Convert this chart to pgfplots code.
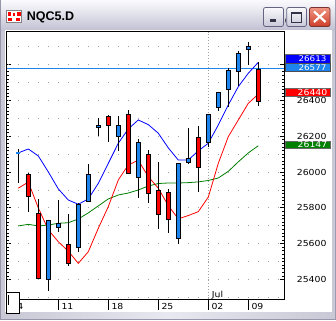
\documentclass[border=0pt]{standalone}
\usepackage{pgfplots}
\pgfplotsset{compat=1.18}
\usepackage{fontspec}
\setmainfont{DejaVu Sans}
\newfontfamily\lblfont[FakeStretch=1.12]{DejaVu Sans}
\newfontfamily\ttlfont{Liberation Sans}
\definecolor{cblue}{RGB}{28,132,236}
\definecolor{maBlue}{RGB}{0,0,255}
\definecolor{maRed}{RGB}{255,0,0}
\definecolor{maGreen}{RGB}{0,128,0}
\definecolor{gridc}{RGB}{160,160,160}
\definecolor{frOut}{RGB}{150,150,170}
\definecolor{frSide}{RGB}{200,200,214}
\definecolor{frMid}{RGB}{232,232,240}
\definecolor{tbTop}{RGB}{248,248,252}
\definecolor{tbBot}{RGB}{192,192,210}
\definecolor{tbMid}{RGB}{222,222,232}
\definecolor{btTop}{RGB}{250,250,252}
\definecolor{btBot}{RGB}{200,200,216}
\definecolor{btBrd}{RGB}{100,100,130}
\definecolor{btIcon}{RGB}{50,50,70}
\definecolor{clTop}{RGB}{240,150,130}
\definecolor{clBot}{RGB}{205,60,40}
\definecolor{clBrd}{RGB}{120,50,50}
\newcommand{\lf}{\lblfont\fontsize{8.3}{9}\selectfont}
% color, x, open, high, low, close
\newcommand{\cndl}[6]{%
 \addplot[black, line width=1pt] coordinates {(#2,#4) (#2,#5)};
 \pgfmathsetmacro\xl{#2-0.18}\pgfmathsetmacro\xr{#2+0.18}%
 \edef\tmp{\noexpand\addplot[fill=#1, draw=black, line width=0.9pt] coordinates {(\xl,#3) (\xr,#3) (\xr,#6) (\xl,#6)} -- cycle;}%
 \tmp}
\begin{document}
\begin{tikzpicture}
\useasboundingbox (0pt,0pt) rectangle (336pt,320pt);
\begin{scope}[x=1pt,y=1pt]
\fill[frOut] (0,0) rectangle (336,320);
\shade[left color=frSide, right color=frSide, middle color=frMid] (1,1) rectangle (335,290);
\shade[top color=tbTop, bottom color=tbBot, middle color=tbMid] (1,289.5) rectangle (335,319);
\fill[white] (4.5,7.5) rectangle (331.5,289.5);
\end{scope}
\begin{axis}[
  at={(6.7pt,21pt)}, anchor=south west,
  scale only axis, width=277.3pt, height=267.3pt,
  xmin=-0.16, xmax=27.57, ymin=25291, ymax=26784,
  axis background/.style={fill=white},
  axis line style={black, line width=1pt},
  every tick/.style={black, line width=0.8pt},
  xtick={0,5,10,15,20,24},
  xticklabels={04,11,18,25,02,09},
  xtick pos=bottom,
  xtick align=outside,
  xtick style={/pgfplots/major tick length=11pt},
  xticklabel style={anchor=north west, inner sep=0pt, xshift=3pt, font=\lf},
  ytick={25400,25600,25800,26000,26200,26400,26600},
  yticklabels={25400,25600,25800,26000,26200,26400,},
  yticklabel pos=right,
  ytick pos=both,
  ytick align=inside,
  major tick length=4pt, minor tick length=2pt,
  minor y tick num=9,
  yticklabel style={anchor=west, inner sep=0pt, xshift=12.7pt, font=\lf},
  extra y ticks={25300,25400,...,26700},
  extra y tick labels={},
  extra y tick style={grid=major, minor tick num=0, tick style={draw=none}},
  major grid style={gridc, line width=0.9pt, dash pattern=on 0.9pt off 9.1pt, dash phase=8.9pt},
]
% month separator
\addplot[gridc, line width=0.9pt, dash pattern=on 0.9pt off 2.1pt] coordinates {(20,25291) (20,26784)};
% horizontal line
\addplot[cblue, line width=1.2pt] coordinates {(-0.16,26577) (27.57,26577)};
% moving averages
\addplot[maGreen, line width=0.8pt] coordinates {(1,25699) (2,25708) (3,25699) (4,25704) (5,25714) (6,25717) (7,25738) (8,25772) (9,25811) (10,25850) (11,25872) (12,25883) (13,25900) (14,25922) (15,25936) (16,25939) (17,25939) (18,25941) (19,25945) (20,25953) (21,25967) (22,26004) (23,26057) (24,26107) (25,26147)};
\addplot[maRed, line width=0.8pt] coordinates {(1,25910) (2,25944) (3,25800) (4,25677) (5,25611) (6,25558) (7,25490) (8,25555) (9,25686) (10,25807) (11,25956) (12,26040) (13,26066) (14,25974) (15,25910) (16,25812) (17,25739) (18,25757) (19,25779) (20,25860) (21,26049) (22,26198) (23,26291) (24,26384) (25,26435)};
\addplot[maBlue, line width=0.8pt] coordinates {(1,26107) (2,26129) (3,26090) (4,26001) (5,25906) (6,25844) (7,25820) (8,25850) (9,25937) (10,26049) (11,26161) (12,26241) (13,26291) (14,26265) (15,26217) (16,26135) (17,26067) (18,26068) (19,26118) (20,26161) (21,26263) (22,26375) (23,26477) (24,26552) (25,26613)};
% candles
\addplot[black, line width=1pt] coordinates {(1,26129) (1,25939)};
\addplot[cblue, line width=1.2pt] coordinates {(0.8,26106) (1.2,26106)};
\cndl{maRed}{2}{25989}{25995}{25779}{25863}
\cndl{maRed}{3}{25771}{25850}{25405}{25407}
\cndl{cblue}{4}{25401}{25735}{25337}{25732}
\cndl{cblue}{5}{25690}{25844}{25665}{25714}
\cndl{maRed}{6}{25597}{25764}{25475}{25490}
\cndl{cblue}{7}{25580}{25825}{25555}{25820}
\cndl{cblue}{8}{25835}{26045}{25830}{25989}
\cndl{cblue}{9}{26248}{26301}{26202}{26263}
\cndl{maRed}{10}{26313}{26316}{26170}{26259}
\cndl{cblue}{11}{26198}{26313}{26120}{26263}
\cndl{maRed}{12}{26319}{26347}{25990}{25993}
\cndl{cblue}{13}{25971}{26185}{25854}{26166}
\cndl{maRed}{14}{26101}{26123}{25826}{25882}
\cndl{maRed}{15}{25900}{26058}{25680}{25764}
\cndl{maRed}{16}{25887}{25904}{25658}{25736}
\cndl{cblue}{17}{25630}{26050}{25597}{26049}
\cndl{cblue}{18}{26055}{26245}{26044}{26077}
\cndl{maRed}{19}{26194}{26259}{25890}{26027}
\cndl{cblue}{20}{26166}{26320}{26142}{26319}
\cndl{cblue}{21}{26362}{26446}{26343}{26446}
\cndl{cblue}{22}{26463}{26583}{26365}{26565}
\cndl{cblue}{23}{26561}{26678}{26481}{26664}
\cndl{cblue}{24}{26686}{26725}{26598}{26701}
\cndl{maRed}{25}{26574}{26615}{26369}{26393}
\end{axis}
\begin{scope}[x=1pt,y=1pt]
% value labels
\filldraw[fill=maBlue, draw=black!60, line width=0.5pt] (285,257) rectangle (330,265.5);
\node[white, font=\lblfont\fontsize{7.8}{9}\selectfont, inner sep=0pt] at (312.5,261.3) {26613};
\filldraw[fill=cblue, draw=black!70, line width=0.5pt] (285,248.3) rectangle (330,256.7);
\node[white, font=\lblfont\fontsize{7.8}{9}\selectfont, inner sep=0pt] at (312.5,252.3) {26577};
\filldraw[fill=maRed, draw=black!60, line width=0.5pt] (285,223.5) rectangle (330,231.3);
\node[white, font=\lf, inner sep=0pt] at (312.5,227.4) {26440};
\filldraw[fill=maGreen, draw=black!60, line width=0.5pt] (285,171.3) rectangle (330,179);
\node[white, font=\lf, inner sep=0pt] at (312.5,175.1) {26147};
% Jul label
\node[anchor=base west, font=\lf, inner sep=0pt] at (211.7,22.3) {Jul};
% bottom-left box
\draw[black, fill=white, line width=1pt] (6.7,6.9) rectangle (19.3,27.3);
\draw[black, line width=0.8pt] (8.3,15) -- (8.3,25);
% title bar
\node[anchor=base west, inner sep=0pt, font=\ttlfont\bfseries\fontsize{12.5}{14}\selectfont] at (26.7,299.3) {NQC5.D};
% icon
\filldraw[fill=white, draw=gray] (6.5,297.5) rectangle (21.5,309.5);
\fill[red] (8,303.5) rectangle (11,308);
\fill[red] (12.5,303.5) rectangle (15,306.5);
\fill[red] (16.5,304) rectangle (20.5,308);
\fill[red] (8,299) rectangle (12,302);
\fill[red] (15.5,298.5) rectangle (19.5,301.5);
% buttons
\shade[top color=btTop, bottom color=btBot, draw=btBrd, rounded corners=2pt, line width=0.8pt] (263.5,293.5) rectangle (283.5,312.5);
\fill[btIcon] (269.5,298) rectangle (276,300.5);
\shade[top color=btTop, bottom color=btBot, draw=btBrd, rounded corners=2pt, line width=0.8pt] (286.7,293.5) rectangle (306.5,312.5);
\draw[btIcon, line width=1pt] (291.2,297.2) rectangle (301.2,307.2);
\fill[btIcon] (290.7,305.5) rectangle (301.7,307.7);
\shade[top color=clTop, bottom color=clBot, draw=clBrd, rounded corners=2pt, line width=0.8pt] (309.5,293.5) rectangle (330,312.5);
\draw[white, line width=2.2pt] (314,298) -- (325.5,308.5);
\draw[white, line width=2.2pt] (314,308.5) -- (325.5,298);
\end{scope}
\end{tikzpicture}
\end{document}
